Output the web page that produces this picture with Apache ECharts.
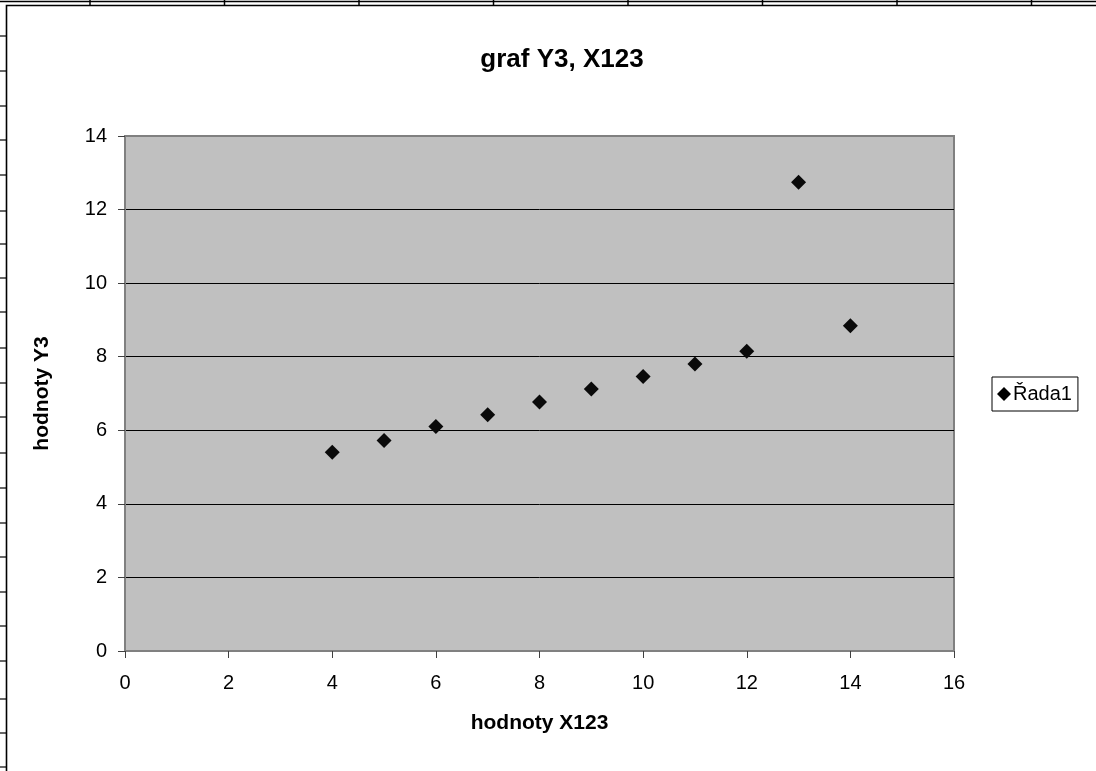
<!DOCTYPE html>
<html>
<head>
<meta charset="utf-8">
<script src="https://cdn.jsdelivr.net/npm/echarts@6/dist/echarts.min.js"></script>
<style>
html,body{margin:0;padding:0;background:#fff;}
#c{width:1096px;height:771px;}
</style>
</head>
<body>
<div id="c"></div>
<script>
var xValues = [4, 5, 6, 7, 8, 9, 10, 11, 12, 13, 14];
var yValues = [5.4, 5.72, 6.1, 6.42, 6.77, 7.12, 7.46, 7.8, 8.15, 12.74, 8.84];
var seriesName = 'Řada1';
var titleText = 'graf Y3, X123';
var xAxisTitle = 'hodnoty X123';
var yAxisTitle = 'hodnoty Y3';

// decorative spreadsheet grid around the chart object
var colLines = [90, 224.5, 359, 493.5, 628, 762.5, 897, 1031.5];
var rowLines = [36, 71, 106, 140, 175, 211, 244, 278, 312, 348, 383, 417, 453, 488, 523, 557, 592, 626, 661, 699, 733, 767];

var deco = [];
deco.push({type:'line', shape:{x1:0,y1:1.5,x2:1096,y2:1.5}, style:{stroke:'#000',lineWidth:1.5}, silent:true});
colLines.forEach(function(x){
  deco.push({type:'line', shape:{x1:x,y1:0,x2:x,y2:5}, style:{stroke:'#000',lineWidth:1.5}, silent:true});
});
rowLines.forEach(function(y){
  deco.push({type:'line', shape:{x1:0,y1:y,x2:6,y2:y}, style:{stroke:'#000',lineWidth:1.2}, silent:true});
});
deco.push({type:'rect', shape:{x:6.5,y:5.5,width:1200,height:900}, style:{fill:null,stroke:'#000',lineWidth:1.6}, silent:true});

var data = xValues.map(function(x, i){ return [x, yValues[i]]; });

var chart = echarts.init(document.getElementById('c'), null, {renderer:'canvas'});
chart.setOption({
  animation: false,
  backgroundColor: '#fff',
  textStyle: {fontFamily: 'Liberation Sans, Arial, sans-serif'},
  title: {
    text: titleText,
    left: 557, top: 42, textAlign: 'center',
    textStyle: {fontSize: 26, fontWeight: 'bold', color: '#000', fontFamily: 'Liberation Sans, Arial, sans-serif'}
  },
  graphic: deco,
  legend: {
    data: [{name: seriesName, icon: 'diamond', itemStyle: {color: '#000', opacity: 1}}],
    left: 992, top: 377,
    orient: 'vertical',
    itemWidth: 14, itemHeight: 14, itemGap: 0,
    padding: [6, 6, 6, 5],
    borderColor: '#000', borderWidth: 1,
    backgroundColor: '#fff',
    textStyle: {fontSize: 20, color: '#000', padding: [0,0,0,-3], lineHeight: 22, fontFamily: 'Liberation Sans, Arial, sans-serif'}
  },
  grid: {
    left: 125, right: 142, top: 136, bottom: 120,
    show: true, backgroundColor: '#C0C0C0', borderColor: '#808080', borderWidth: 2
  },
  xAxis: {
    type: 'value', min: 0, max: 16, interval: 2,
    name: xAxisTitle, nameLocation: 'middle', nameGap: 62,
    nameTextStyle: {fontSize: 21, fontWeight: 'bold', color: '#000'},
    axisLine: {show: true, onZero: false, lineStyle: {color: '#808080', width: 2}},
    axisTick: {show: true, length: 7, lineStyle: {color: '#404040', width: 1}},
    axisLabel: {fontSize: 20, color: '#000', margin: 22},
    splitLine: {show: false}
  },
  yAxis: {
    type: 'value', min: 0, max: 14, interval: 2,
    name: yAxisTitle, nameLocation: 'middle', nameGap: 72,
    nameTextStyle: {fontSize: 21, fontWeight: 'bold', color: '#000'},
    axisLine: {show: true, onZero: false, lineStyle: {color: '#808080', width: 2}},
    axisTick: {show: true, length: 7, lineStyle: {color: '#404040', width: 1}},
    axisLabel: {fontSize: 20, color: '#000', margin: 18},
    splitLine: {show: true, showMinLine: false, showMaxLine: false, lineStyle: {color: '#000', width: 1}}
  },
  series: [{
    name: seriesName,
    type: 'scatter',
    symbol: 'diamond',
    symbolSize: 15,
    itemStyle: {color: '#0a0a0a', opacity: 1},
    data: data
  }]
});
</script>
</body>
</html>
